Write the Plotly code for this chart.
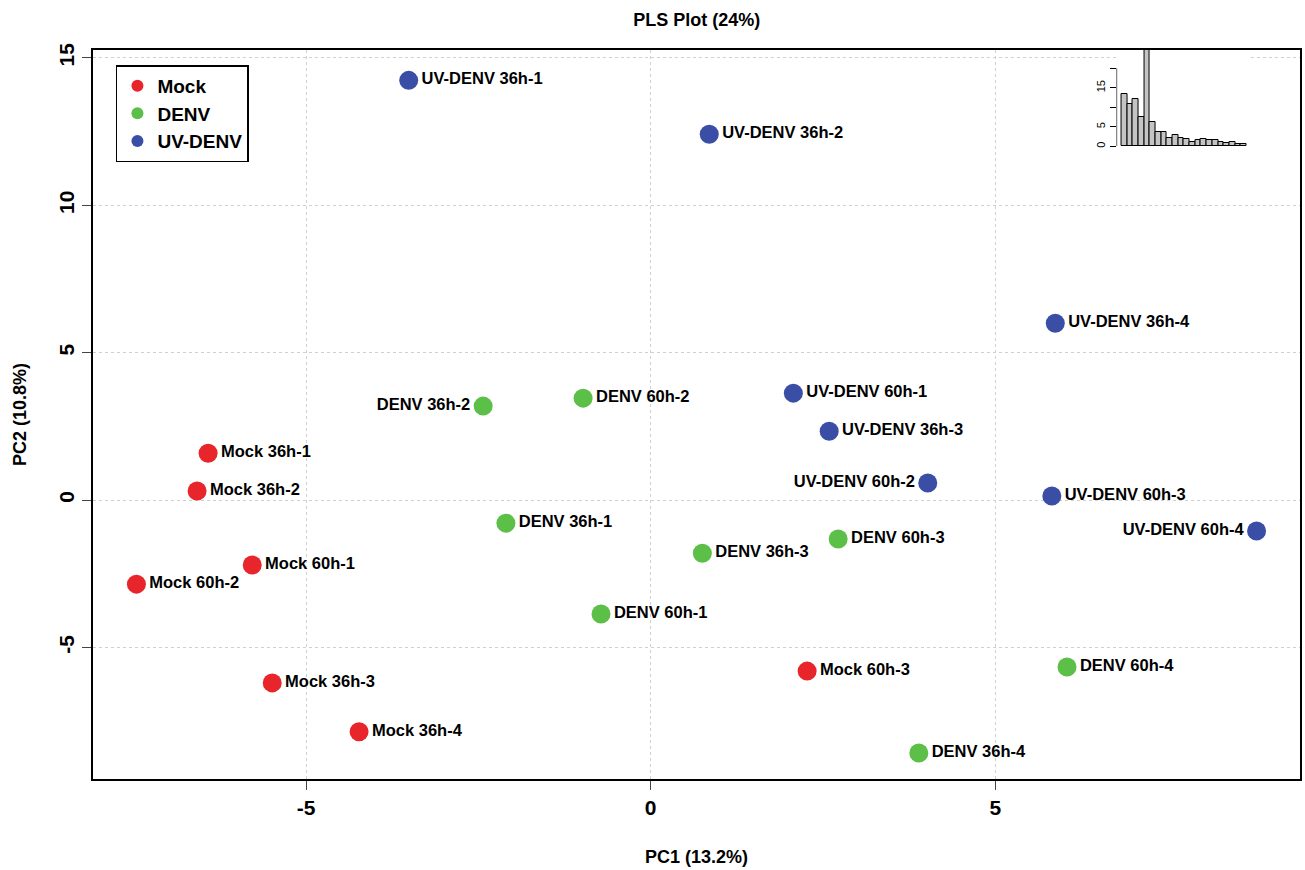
import plotly.graph_objects as go

# ---- data ----
mock_labels = ["Mock 36h-1", "Mock 36h-2", "Mock 60h-1", "Mock 60h-2", "Mock 36h-3", "Mock 36h-4", "Mock 60h-3"]
mock_x = [-6.42, -6.58, -5.78, -7.46, -5.49, -4.23, 2.27]
mock_y = [1.59, 0.31, -2.20, -2.85, -6.20, -7.86, -5.80]
mock_pos = ["middle right"] * 7

denv_labels = ["DENV 36h-2", "DENV 60h-2", "DENV 36h-1", "DENV 36h-3", "DENV 60h-3", "DENV 60h-1", "DENV 60h-4", "DENV 36h-4"]
denv_x = [-2.43, -0.98, -2.10, 0.75, 2.72, -0.72, 6.04, 3.89]
denv_y = [3.19, 3.46, -0.78, -1.80, -1.32, -3.86, -5.66, -8.58]
denv_pos = ["middle left"] + ["middle right"] * 7

uv_labels = ["UV-DENV 36h-1", "UV-DENV 36h-2", "UV-DENV 36h-4", "UV-DENV 60h-1", "UV-DENV 36h-3", "UV-DENV 60h-2", "UV-DENV 60h-3", "UV-DENV 60h-4"]
uv_x = [-3.51, 0.85, 5.87, 2.07, 2.59, 4.02, 5.82, 8.79]
uv_y = [14.24, 12.41, 6.00, 3.63, 2.34, 0.58, 0.14, -1.05]
uv_pos = ["middle right"] * 5 + ["middle left", "middle right", "middle left"]

inset_x = list(range(1, 23))
inset_vals = [13.4, 10.8, 12.1, 7.5, 26.0, 6.3, 3.7, 3.7, 2.2, 2.8, 2.2, 1.8, 1.1, 1.55,
              1.8, 1.6, 1.55, 1.1, 0.9, 1.1, 0.5, 0.5]
inset_ticks = [0, 5, 10, 15, 20]
inset_ticktext = ["0", "5", "", "15", ""]

x_ticks = [-5, 0, 5]
y_ticks = [-5, 0, 5, 10, 15]

RED = "#e8252a"
GREEN = "#5bbf48"
BLUE = "#3a4ea6"
FONT = "Liberation Sans"

fig = go.Figure()

def add_group(name, xs, ys, labels, pos, color):
    fig.add_trace(go.Scatter(
        x=xs, y=ys, mode="markers+text", name="<b>%s</b>" % name,
        text=["<b>%s</b>" % l for l in labels], textposition=pos,
        textfont=dict(family=FONT, size=16.5, color="black"),
        marker=dict(color=color, size=19, line=dict(width=0)),
        cliponaxis=False,
    ))

add_group("Mock", mock_x, mock_y, mock_labels, mock_pos, RED)
add_group("DENV", denv_x, denv_y, denv_labels, denv_pos, GREEN)
add_group("UV-DENV", uv_x, uv_y, uv_labels, uv_pos, BLUE)

fig.add_trace(go.Bar(
    x=inset_x, y=inset_vals, xaxis="x2", yaxis="y2", showlegend=False,
    marker=dict(color="#c4c4c4", line=dict(color="black", width=1)),
))

fig.add_shape(type="line", xref="x2", yref="y2", x0=-0.35, x1=-0.35, y0=0, y1=20,
              line=dict(color="black", width=1.2))

fig.update_layout(
    width=1305, height=870,
    margin=dict(l=93, r=3, t=50, b=91),
    paper_bgcolor="white", plot_bgcolor="white",
    font=dict(family=FONT, color="black"),
    title=dict(text="<b>PLS Plot (24%)</b>", x=0.534, xanchor="center", y=0.977, yanchor="middle",
               font=dict(family=FONT, size=18, color="black")),
    bargap=0,
    legend=dict(x=0.019, y=0.979, xanchor="left", yanchor="top",
                bordercolor="black", borderwidth=1.5, bgcolor="white",
                font=dict(family=FONT, size=19, color="black"),
                itemsizing="constant", tracegroupgap=0, itemwidth=30),
    xaxis=dict(range=[-8.09, 9.42], tickvals=x_ticks, ticktext=["<b>-5</b>", "<b>0</b>", "<b>5</b>"],
               showline=True, mirror=True, linecolor="black", linewidth=1.5,
               ticks="outside", ticklen=9, tickwidth=1, tickcolor="#444",
               tickfont=dict(family=FONT, size=21), showgrid=True, gridcolor="#d0d0d0",
               griddash="dot", gridwidth=1, zeroline=False,
               title=dict(text="<b>PC1 (13.2%)</b>", font=dict(family=FONT, size=18), standoff=32)),
    yaxis=dict(range=[-9.46, 15.27], tickvals=y_ticks,
               ticktext=["<b>-5</b>", "<b>0</b>", "<b>5</b>", "<b>10</b>", "<b>15</b>"],
               tickangle=-90,
               showline=True, mirror=True, linecolor="black", linewidth=1.5,
               ticks="outside", ticklen=9, tickwidth=1, tickcolor="#444",
               tickfont=dict(family=FONT, size=21), showgrid=True, gridcolor="#d0d0d0",
               griddash="dot", gridwidth=1, zeroline=False,
               title=dict(text="<b>PC2 (10.8%)</b>", font=dict(family=FONT, size=18), standoff=24)),
    xaxis2=dict(domain=[0.848, 0.959], range=[-0.35, 23.2], anchor="y2", visible=False),
    yaxis2=dict(domain=[0.868, 1.0], range=[0, 24.7], anchor="x2", tickvals=inset_ticks,
                ticktext=inset_ticktext, tickangle=-90, ticks="outside", ticklen=6,
                tickcolor="black", showline=False, showgrid=False, zeroline=False,
                tickfont=dict(family=FONT, size=11)),
)

fig.write_html("out.html")
